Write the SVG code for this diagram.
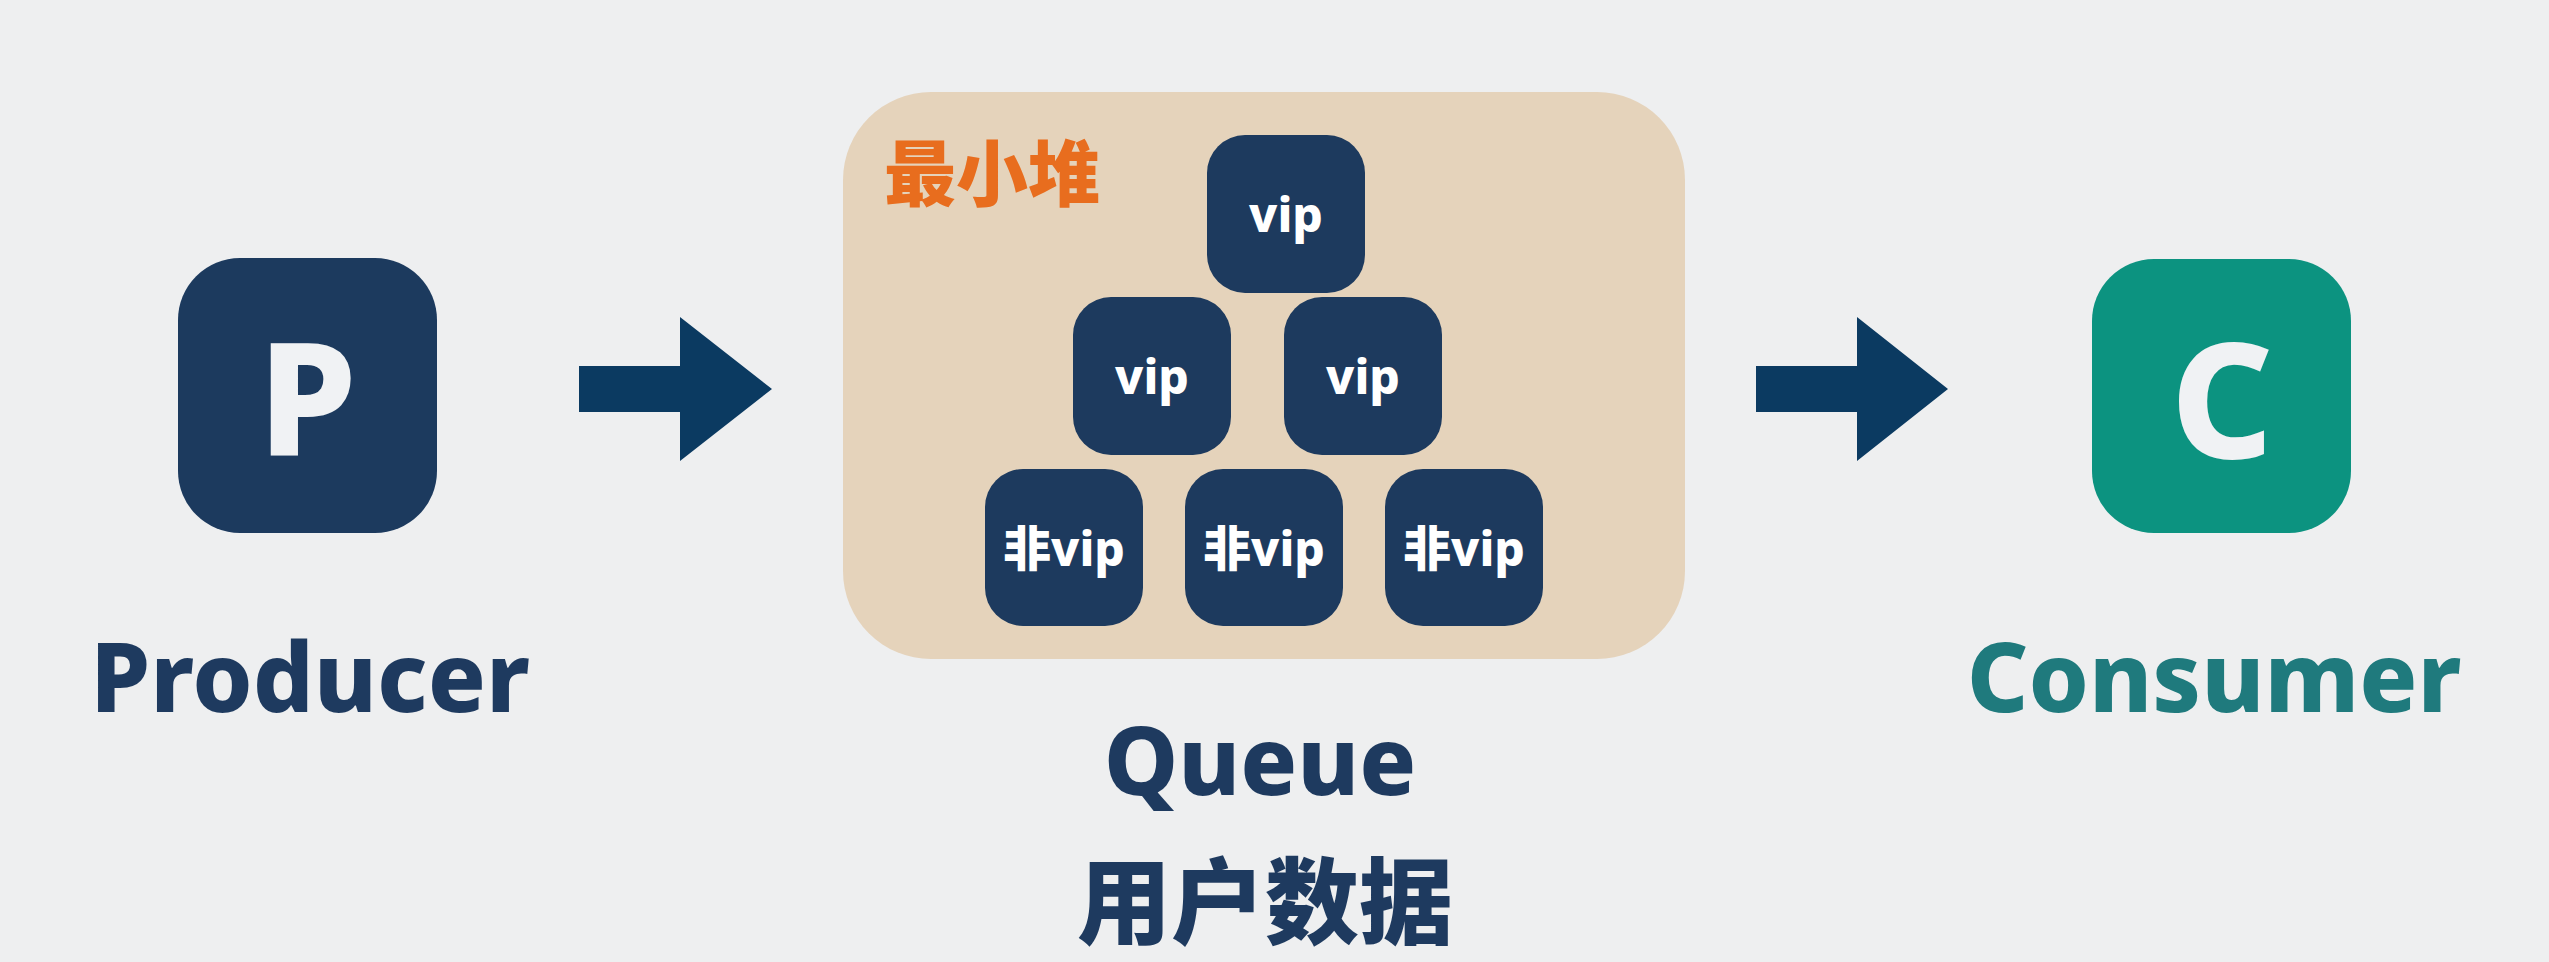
<svg xmlns="http://www.w3.org/2000/svg" width="2549" height="962" viewBox="0 0 2549 962">
<style>
.lbl{font-family:"Noto Sans","Open Sans","Noto Sans CJK SC",sans-serif;font-weight:800;text-anchor:middle}
.cjk{font-family:"Noto Sans CJK SC","Noto Sans",sans-serif;font-weight:900}
.item{fill:#1D3A5E}
.itxt{font-family:"Noto Sans","Noto Sans CJK SC",sans-serif;font-weight:800;font-size:48px;fill:#FFFFFF;text-anchor:middle}
.arrow{fill:#0B3A61}
</style>
<rect x="0" y="0" width="2549" height="962" fill="#EEEFF0"/>
<g id="producer">
<rect x="178" y="258" width="259" height="275" rx="62" fill="#1C3A5E"/>
<text class="lbl" x="307.5" y="456" font-size="158" fill="#F0F2F4">P</text>
<text class="lbl" x="310" y="712" font-size="96" fill="#1E3A5F">Producer</text>
</g>
<g id="queue">
<rect x="843" y="92" width="842" height="567" rx="88" fill="#E5D3BB"/>
<text class="cjk" x="884" y="200" font-size="72" fill="#E86D1E">最小堆</text>
<g id="heap-node-1"><rect class="item" x="1207" y="135" width="158" height="158" rx="38"/><text class="itxt" x="1286" y="232">vip</text></g>
<g id="heap-node-2"><rect class="item" x="1073" y="297" width="158" height="158" rx="38"/><text class="itxt" x="1152" y="394">vip</text></g>
<g id="heap-node-3"><rect class="item" x="1284" y="297" width="158" height="158" rx="38"/><text class="itxt" x="1363" y="394">vip</text></g>
<g id="heap-node-4"><rect class="item" x="985" y="469" width="158" height="157" rx="38"/><text class="itxt" x="1064" y="566">非vip</text></g>
<g id="heap-node-5"><rect class="item" x="1185" y="469" width="158" height="157" rx="38"/><text class="itxt" x="1264" y="566">非vip</text></g>
<g id="heap-node-6"><rect class="item" x="1385" y="469" width="158" height="157" rx="38"/><text class="itxt" x="1464" y="566">非vip</text></g>
<text class="lbl" x="1260" y="795" font-size="94" fill="#1E3A5F">Queue</text>
<text class="cjk" x="1265" y="937" font-size="94" fill="#1E3A5F" text-anchor="middle">用户数据</text>
</g>
<g id="consumer">
<rect x="2092" y="259" width="259" height="274" rx="62" fill="#0C9380"/>
<text class="lbl" x="2222" y="458" font-size="160" fill="#F0F2F4">C</text>
<text class="lbl" x="2214" y="712" font-size="96" fill="#1F7A7D">Consumer</text>
</g>
<g id="connectors">
<polygon class="arrow" points="579,366 680,366 680,317 772,389 680,461 680,412 579,412"/>
<polygon class="arrow" points="1756,366 1857,366 1857,317 1948,389 1857,461 1857,412 1756,412"/>
</g>
</svg>
